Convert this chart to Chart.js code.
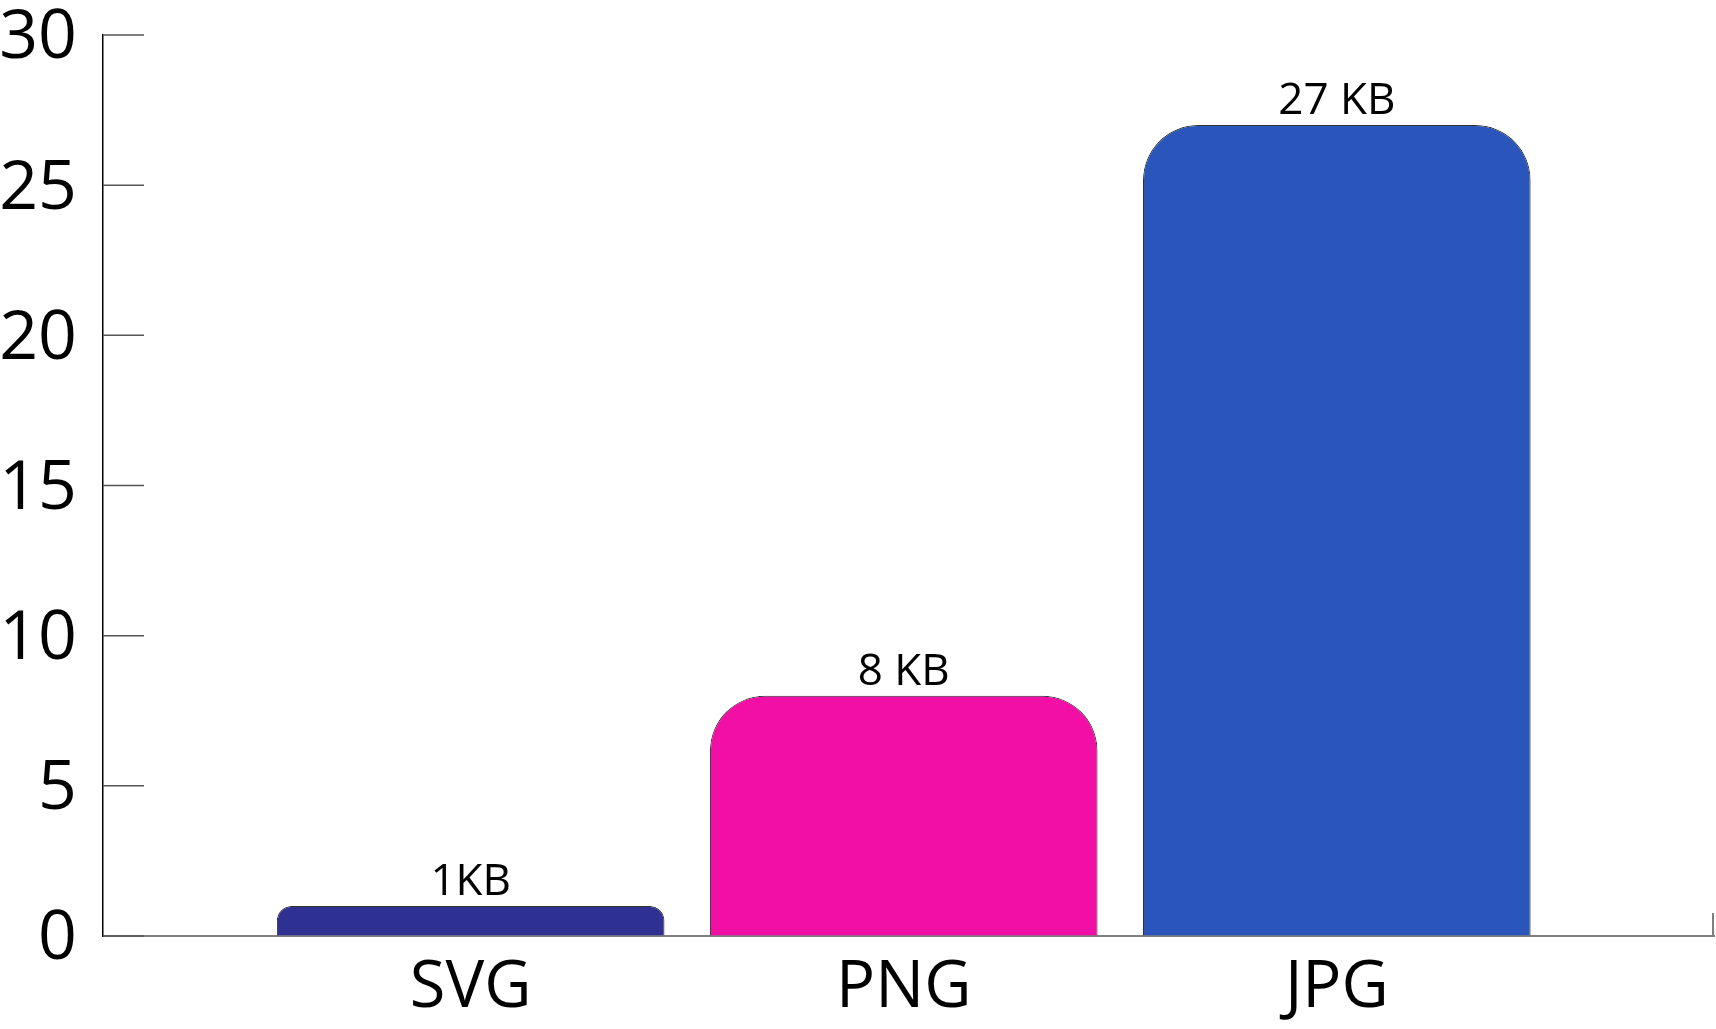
<!DOCTYPE html>
<html>
<head>
<meta charset="utf-8">
<script src="https://cdn.jsdelivr.net/npm/chart.js@4.4.1/dist/chart.umd.min.js"></script>
<style>
  html, body { margin: 0; padding: 0; background: #fff; }
  #wrap { width: 1716px; height: 1029px; position: relative; }
</style>
</head>
<body>
<div id="wrap"><canvas id="sizeChart"></canvas></div>
<script>
// File size comparison data
const formats = ['SVG', 'PNG', 'JPG'];
const sizesKb = [1, 8, 27];
const sizeLabels = ['1KB', '8 KB', '27 KB'];
const yTicks = [0, 5, 10, 15, 20, 25, 30];
const barColors = ['#2e3192', '#f20fa5', '#2a55ba'];

Chart.defaults.font.family = '"Open Sans", "Noto Sans", sans-serif';
Chart.defaults.color = '#000';

// short inner ticks on the y axis, end tick on the x axis, value labels
const axisMarks = {
  id: 'axisMarks',
  afterDatasetsDraw(chart) {
    const { ctx, chartArea } = chart;
    const y = chart.scales.y;
    ctx.save();
    ctx.strokeStyle = '#555';
    ctx.lineWidth = 1.5;
    yTicks.forEach(v => {
      const py = y.getPixelForValue(v);
      ctx.beginPath();
      ctx.moveTo(chartArea.left, py);
      ctx.lineTo(chartArea.left + 41, py);
      ctx.stroke();
    });
    ctx.strokeStyle = '#808080';
    ctx.lineWidth = 2;
    ctx.beginPath();
    ctx.moveTo(chartArea.right - 1, chartArea.bottom);
    ctx.lineTo(chartArea.right - 1, chartArea.bottom - 23);
    ctx.stroke();

    const meta = chart.getDatasetMeta(0);
    ctx.fillStyle = '#000';
    ctx.font = '44px "Open Sans"';
    ctx.textAlign = 'center';
    ctx.textBaseline = 'alphabetic';
    meta.data.forEach((bar, i) => {
      ctx.fillText(sizeLabels[i], bar.x, bar.y - 11);
    });
    ctx.restore();
  }
};

new Chart(document.getElementById('sizeChart'), {
  type: 'bar',
  data: {
    datasets: [{
      data: formats.map((f, i) => ({ x: i, y: sizesKb[i] })),
      backgroundColor: barColors,
      borderColor: '#333',
      borderWidth: 1,
      borderRadius: 55,
      borderSkipped: 'bottom',
      barPercentage: 1,
      categoryPercentage: 0.895
    }]
  },
  options: {
    responsive: true,
    maintainAspectRatio: false,
    animation: false,
    layout: { padding: { top: 35, right: 2, left: 0, bottom: 0 } },
    plugins: {
      legend: { display: false },
      tooltip: { enabled: false }
    },
    scales: {
      x: {
        type: 'linear',
        offset: false,
        min: -0.849,
        max: 2.871,
        afterBuildTicks: (scale) => { scale.ticks = formats.map((f, i) => ({ value: i })); },
        afterFit: (scale) => { scale.height = 93; },
        grid: { display: false },
        border: { color: '#808080', width: 2 },
        ticks: {
          padding: 12,
          font: { size: 65, lineHeight: 1 },
          callback: (v) => formats[v]
        }
      },
      y: {
        min: 0,
        max: 30,
        afterBuildTicks: (scale) => { scale.ticks = yTicks.map(v => ({ value: v })); },
        afterFit: (scale) => {
          scale.width = 103;
          scale.paddingTop = 35;
        },
        grid: { drawOnChartArea: false, drawTicks: false },
        border: { color: '#000', width: 1.5 },
        ticks: {
          padding: 26,
          labelOffset: 4,
          font: { size: 68, lineHeight: 1 }
        }
      }
    }
  },
  plugins: [axisMarks]
});
</script>
</body>
</html>
